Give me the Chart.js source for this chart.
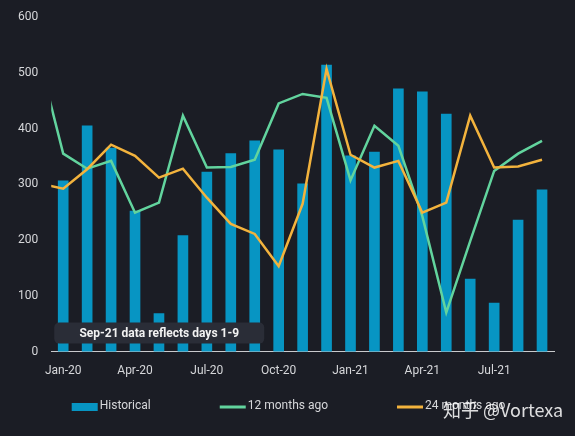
<!DOCTYPE html>
<html>
<head>
<meta charset="utf-8">
<script src="https://cdn.jsdelivr.net/npm/chart.js@4.4.1/dist/chart.umd.min.js"></script>
<style>
html,body{margin:0;padding:0;background:#1b1d25;}
canvas{display:block;}
</style>
</head>
<body>
<canvas id="c" width="575" height="436"></canvas>
<script>
// Months (Dec-19 only carries the tail of the comparison lines, clipped at the left edge)
const months = ['Dec-19','Jan-20','Feb-20','Mar-20','Apr-20','May-20','Jun-20','Jul-20','Aug-20','Sep-20','Oct-20','Nov-20','Dec-20',
                'Jan-21','Feb-21','Mar-21','Apr-21','May-21','Jun-21','Jul-21','Aug-21','Sep-21'];
const tickMonths = ['Jan-20','Apr-20','Jul-20','Oct-20','Jan-21','Apr-21','Jul-21'];
const yTicks = [0,100,200,300,400,500,600];

const historical        = [null, 306, 405, 365, 252,  68, 208, 322, 355, 378, 362, 301, 514, 351, 358, 471, 466, 426, 130,  87, 236, 290];
const twelveMonthsAgo   = [ 525, 355, 328, 342, 249, 267, 423, 330, 331, 344, 445, 462, 455, 307, 405, 369, 243,  70, 198, 324, 355, 378];
const twentyFourMonthsAgo = [302, 292, 327, 371, 351, 312, 328, 276, 229, 211, 153, 265, 507, 353, 330, 342, 249, 267, 423, 330, 332, 344];

const seriesNames = ['Historical', '12 months ago', '24 months ago'];
const note = 'Sep-21 data reflects days 1-9';
const watermark = '知乎 @Vortexa';

const C_BG = '#1b1d25', C_BAR = '#0795c3', C_GREEN = '#62d49e', C_ORANGE = '#f3b33d', C_TEXT = '#d6d7da';

const toPts = arr => arr.map((v, i) => ({x: i, y: v}));

const overlay = {
  id: 'overlay',
  beforeDraw(chart) {
    const ctx = chart.ctx;
    ctx.save();
    ctx.fillStyle = C_BG;
    ctx.fillRect(0, 0, chart.width, chart.height);
    ctx.restore();
  },
  afterDatasetsDraw(chart) {
    const ctx = chart.ctx;
    const area = chart.chartArea;
    ctx.save();
    const bx = area.left + 3, bw = 210, bh = 21;
    const by = area.bottom - 29;
    ctx.fillStyle = '#2a2d37';
    ctx.beginPath();
    ctx.roundRect(bx, by, bw, bh, 5);
    ctx.fill();
    ctx.fillStyle = '#f2f2f2';
    ctx.font = 'bold 12px Roboto';
    ctx.textAlign = 'center';
    ctx.textBaseline = 'middle';
    ctx.fillText(note, bx + bw / 2, by + bh / 2 + 1);
    ctx.restore();
  },
  afterDraw(chart) {
    const ctx = chart.ctx;
    ctx.save();
    ctx.font = '12px Roboto';
    ctx.textBaseline = 'middle';
    const ds = chart.data.datasets;
    const sym = 26, gap = 2, spacing = 69;
    const widths = ds.map(d => sym + gap + ctx.measureText(d.label).width);
    const total = widths.reduce((a, b) => a + b, 0) + spacing * (ds.length - 1);
    let x = (chart.width - total) / 2 + 1;
    const y = 406;
    ds.forEach((d, i) => {
      if (d.type === 'bar') {
        ctx.fillStyle = d.backgroundColor;
        ctx.fillRect(x, y - 3, sym, 8);
      } else {
        ctx.strokeStyle = d.borderColor;
        ctx.lineWidth = 3;
        ctx.beginPath();
        ctx.moveTo(x, y + 1);
        ctx.lineTo(x + sym, y + 1);
        ctx.stroke();
      }
      ctx.fillStyle = C_TEXT;
      ctx.textAlign = 'left';
      ctx.fillText(d.label, x + sym + gap, y);
      x += widths[i] + spacing;
    });
    ctx.font = '18px "Noto Sans CJK SC", "Noto Sans", sans-serif';
    ctx.fillStyle = 'rgba(255,255,255,0.85)';
    ctx.textAlign = 'left';
    ctx.textBaseline = 'alphabetic';
    ctx.fillText(watermark, 443, 417);
    ctx.restore();
  }
};

new Chart(document.getElementById('c'), {
  data: {
    datasets: [
      { type: 'bar', label: seriesNames[0], data: toPts(historical), backgroundColor: C_BAR,
        barThickness: 10, order: 3 },
      { type: 'line', label: seriesNames[1], data: toPts(twelveMonthsAgo), borderColor: C_GREEN,
        backgroundColor: C_GREEN, borderWidth: 2.5, pointRadius: 0, tension: 0, fill: false, order: 2, clip: 0 },
      { type: 'line', label: seriesNames[2], data: toPts(twentyFourMonthsAgo), borderColor: C_ORANGE,
        backgroundColor: C_ORANGE, borderWidth: 2.5, pointRadius: 0, tension: 0, fill: false, order: 1, clip: 0 }
    ]
  },
  options: {
    responsive: false,
    animation: false,
    layout: { padding: { top: 17, left: 16, right: 21, bottom: 56 } },
    plugins: { legend: { display: false }, tooltip: { enabled: false } },
    scales: {
      x: {
        type: 'linear', min: 0.5, max: 21.5, offset: false,
        grid: { display: false, drawTicks: true, tickLength: 10 },
        border: { display: true, color: '#c9cacd', width: 1 },
        afterBuildTicks: s => { s.ticks = tickMonths.map(m => ({ value: months.indexOf(m) })); },
        ticks: { padding: 2, color: C_TEXT, font: { family: 'Roboto', size: 12 },
                 maxRotation: 0, autoSkip: false, callback: v => months[v] }
      },
      y: {
        min: 0, max: 600,
        grid: { display: false, drawTicks: true, tickLength: 11 },
        border: { display: false },
        afterBuildTicks: s => { s.ticks = yTicks.map(v => ({ value: v })); },
        ticks: { padding: 2, color: C_TEXT, font: { family: 'Roboto', size: 12 } }
      }
    }
  },
  plugins: [overlay]
});
</script>
</body>
</html>
